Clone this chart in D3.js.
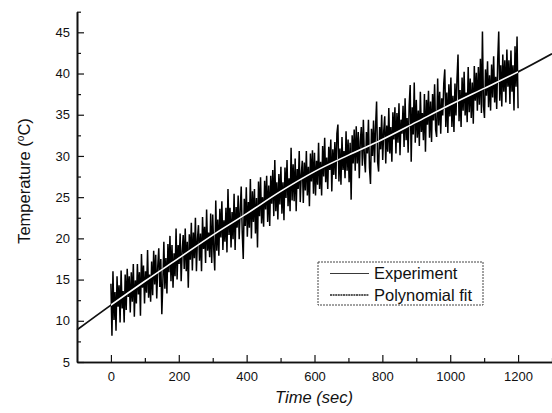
<!DOCTYPE html>
<html>
<head>
<meta charset="utf-8">
<script src="https://cdn.jsdelivr.net/npm/d3@7"></script>
<style>
  body { margin: 0; background: #fff; }
  svg text { font-family: "Liberation Sans", Arial, sans-serif; fill: #111; }
</style>
</head>
<body>
<svg id="chart"></svg>
<script>
// measured temperature, one reading every 3 s from 0 to 1200 s
let sampleStep = 3;
let expTemp = [
  14.5, 8.2, 16.0, 10.1, 13.5, 8.8, 15.4, 11.7, 14.3, 9.8, 16.1, 11.5, 13.6, 9.8, 15.6, 11.3, 16.3, 12.9, 15.4, 11.0,
  15.9, 12.3, 16.9, 10.5, 14.9, 12.1, 16.9, 13.2, 15.9, 10.6, 18.1, 14.0, 16.7, 12.1, 16.0, 13.4, 18.6, 12.8, 15.6, 12.3,
  17.2, 13.1, 18.5, 14.4, 18.0, 12.7, 16.6, 18.8, 14.1, 17.5, 10.8, 14.6, 19.6, 13.9, 17.6, 13.3, 19.3, 15.9, 20.3, 14.8,
  19.2, 14.0, 18.2, 15.4, 21.2, 15.0, 19.2, 16.9, 20.6, 14.8, 18.4, 20.4, 16.3, 21.2, 16.0, 19.6, 14.0, 20.5, 17.4, 21.9,
  16.1, 20.7, 17.6, 22.5, 16.0, 19.9, 21.6, 17.3, 20.6, 16.0, 22.6, 18.7, 21.4, 17.0, 23.5, 18.5, 20.7, 17.7, 23.0, 17.0,
  22.9, 18.7, 16.1, 24.6, 18.5, 22.3, 17.9, 23.6, 20.1, 24.5, 18.6, 22.2, 19.6, 23.7, 18.3, 26.0, 20.4, 23.7, 18.9, 23.2,
  19.9, 25.4, 18.6, 23.8, 21.3, 25.2, 19.9, 23.4, 26.3, 20.7, 17.5, 24.8, 21.5, 26.2, 20.2, 24.4, 21.3, 27.2, 20.0, 25.7,
  22.0, 26.0, 20.6, 24.9, 18.9, 26.9, 22.7, 27.4, 21.8, 25.0, 21.4, 27.0, 23.5, 27.6, 22.0, 26.4, 21.5, 27.6, 24.2, 28.3,
  22.7, 29.5, 23.3, 26.8, 22.3, 27.8, 24.1, 28.7, 23.0, 26.8, 22.2, 28.6, 24.9, 29.5, 23.9, 27.3, 23.3, 31.0, 24.6, 29.0,
  24.5, 29.7, 23.3, 28.4, 26.0, 30.6, 24.4, 27.8, 29.4, 24.3, 29.2, 25.8, 30.6, 25.2, 28.7, 23.9, 30.3, 26.9, 30.7, 25.4,
  30.4, 25.2, 29.4, 26.5, 31.6, 26.0, 29.3, 25.2, 31.2, 27.5, 32.2, 26.8, 29.8, 26.0, 31.1, 28.3, 32.0, 25.7, 30.8, 27.7,
  31.7, 27.2, 32.7, 33.8, 26.9, 30.9, 26.5, 32.3, 28.3, 30.6, 27.3, 33.0, 28.2, 32.0, 26.8, 31.6, 24.7, 32.5, 29.1, 33.2,
  28.2, 33.6, 29.1, 32.9, 27.3, 31.8, 33.5, 28.8, 34.4, 29.8, 28.0, 32.9, 30.3, 34.4, 28.6, 26.6, 33.3, 30.0, 34.3, 29.2,
  33.6, 36.6, 29.3, 28.1, 33.5, 30.8, 35.0, 29.5, 33.0, 34.8, 29.1, 33.7, 30.5, 35.8, 30.3, 33.5, 29.3, 35.3, 32.0, 35.9,
  30.3, 35.2, 31.6, 36.4, 30.1, 34.4, 32.7, 36.1, 31.1, 37.0, 31.9, 34.6, 30.4, 36.1, 38.6, 29.3, 35.9, 32.6, 38.9, 31.6,
  36.8, 32.2, 35.5, 31.2, 37.8, 32.9, 35.2, 31.9, 37.5, 30.5, 36.8, 33.8, 37.9, 32.2, 36.6, 31.7, 37.5, 34.3, 38.7, 33.2,
  32.3, 39.4, 33.7, 37.8, 32.7, 37.0, 34.9, 38.8, 40.5, 33.5, 37.7, 32.8, 38.7, 34.8, 39.5, 33.5, 37.3, 32.9, 38.8, 34.9,
  39.4, 42.3, 34.2, 38.0, 33.5, 39.5, 35.5, 40.2, 34.9, 37.7, 34.1, 40.8, 35.3, 39.4, 34.6, 38.9, 33.9, 40.9, 36.7, 40.1,
  35.5, 40.8, 36.2, 41.8, 35.2, 45.1, 36.1, 34.6, 40.5, 37.3, 41.5, 35.9, 39.8, 35.5, 41.1, 37.1, 42.1, 36.5, 39.6, 35.7,
  41.6, 45.1, 36.7, 41.0, 36.0, 42.3, 37.8, 41.6, 36.5, 42.9, 38.4, 41.6, 36.3, 42.8, 37.8, 41.0, 35.5, 43.3, 38.4, 44.5,
  35.8
];

// polynomial fit
let fitTime = [-100, 0, 100, 200, 300, 400, 500, 600, 700, 800, 900, 1000, 1100, 1200, 1300];
let fitTemp = [8.9, 11.9, 14.8, 17.6, 20.4, 23.0, 25.7, 28.1, 30.1, 32.0, 34.1, 36.2, 38.2, 40.2, 42.4];

let xTicks = [0, 200, 400, 600, 800, 1000, 1200];
let xMinorTicks = [100, 300, 500, 700, 900, 1100, 1300];
let yTicks = [5, 10, 15, 20, 25, 30, 35, 40, 45];
let yMinorTicks = [7.5, 12.5, 17.5, 22.5, 27.5, 32.5, 37.5, 42.5, 47.5];

let legends = ['Experiment', 'Polynomial fit'];

let width = 552;
let height = 413;

let svg = d3.select('#chart')
            .attr('width', width)
            .attr('height', height);

let xScale = d3.scaleLinear()
                .domain([-100, 1300])
                .range([77, 552]);

let yScale = d3.scaleLinear()
                .domain([5, 47.5])
                .range([362, 11.7]);

let expData = expTemp.map((t, i) => ({time: i * sampleStep, temp: t}));
let fitData = fitTime.map((t, i) => ({time: t, temp: fitTemp[i]}));

// experiment trace
let expLine = d3.line()
                .x(d => xScale(d.time))
                .y(d => yScale(d.temp));

svg.append('path')
    .datum(expData)
    .attr('d', expLine)
    .attr('fill', 'none')
    .attr('stroke', '#000')
    .attr('stroke-width', 1.5)
    .attr('stroke-linejoin', 'bevel');

// fit curve: dark outside the data, white where it crosses the band
let fitLine = d3.line()
                .curve(d3.curveMonotoneX)
                .x(d => xScale(d.time))
                .y(d => yScale(d.temp));

svg.append('clipPath')
    .attr('id', 'data-range')
    .append('rect')
    .attr('x', xScale(0))
    .attr('y', 0)
    .attr('width', xScale(1200) - xScale(0))
    .attr('height', height);

svg.append('path')
    .datum(fitData)
    .attr('d', fitLine)
    .attr('fill', 'none')
    .attr('stroke', '#111')
    .attr('stroke-width', 1.8);

svg.append('path')
    .datum(fitData)
    .attr('d', fitLine)
    .attr('clip-path', 'url(#data-range)')
    .attr('fill', 'none')
    .attr('stroke', '#fff')
    .attr('stroke-width', 1.6);

// axes
let xAxis = d3.axisBottom(xScale)
              .tickValues(xTicks)
              .tickSizeInner(-7)
              .tickSizeOuter(0)
              .tickPadding(10)
              .tickFormat(d3.format('d'));

let xMinor = d3.axisBottom(xScale)
               .tickValues(xMinorTicks)
               .tickSizeInner(-4)
               .tickSizeOuter(0)
               .tickFormat('');

let yAxis = d3.axisLeft(yScale)
              .tickValues(yTicks)
              .tickSizeInner(-7)
              .tickSizeOuter(0)
              .tickPadding(7)
              .tickFormat(d3.format('d'));

let yMinor = d3.axisLeft(yScale)
               .tickValues(yMinorTicks)
               .tickSizeInner(-4)
               .tickSizeOuter(0)
               .tickFormat('');

svg.append('g')
    .attr('transform', `translate(0,${yScale(5)})`)
    .call(xAxis);
svg.append('g')
    .attr('transform', `translate(0,${yScale(5)})`)
    .call(xMinor);

svg.append('g')
    .attr('transform', `translate(${xScale(-100)},0)`)
    .call(yAxis);
svg.append('g')
    .attr('transform', `translate(${xScale(-100)},0)`)
    .call(yMinor);

svg.selectAll('.domain')
    .attr('stroke', '#111')
    .attr('stroke-width', 1.6);
svg.selectAll('.tick line')
    .attr('stroke', '#111')
    .attr('stroke-width', 1.2);
svg.selectAll('.tick text')
    .style('font-family', '"Liberation Sans", Arial, sans-serif')
    .style('font-size', '13px')
    .attr('fill', '#111');

// axis titles
svg.append('text')
    .attr('x', 314)
    .attr('y', 403)
    .style('font-size', '16.5px')
    .style('font-style', 'italic')
    .style('text-anchor', 'middle')
    .text('Time (sec)');

let yTitle = svg.append('text')
                .attr('transform', 'translate(30,181) rotate(-90)')
                .style('font-size', '16.5px')
                .style('text-anchor', 'middle');
yTitle.append('tspan').text('Temperature (');
yTitle.append('tspan')
      .attr('dy', -6)
      .style('font-size', '10px')
      .text('o');
yTitle.append('tspan')
      .attr('dy', 6)
      .text('C)');

// legend
let legend = svg.append('g')
                .attr('transform', 'translate(318,262)');

legend.append('rect')
      .attr('width', 165)
      .attr('height', 43)
      .attr('fill', '#fff')
      .attr('stroke', '#444')
      .attr('stroke-width', 1)
      .attr('stroke-dasharray', '2,1');

let rows = legend.selectAll('.legend')
                 .data(legends)
                 .enter()
                 .append('g')
                 .attr('class', 'legend')
                 .attr('transform', (d, i) => `translate(0,${11.5 + i * 21.5})`);

rows.append('line')
    .attr('x1', 12)
    .attr('x2', 51)
    .attr('stroke', '#222')
    .attr('stroke-width', (d, i) => i ? 1.4 : 0.9)
    .attr('stroke-dasharray', (d, i) => i ? '2,0.6' : null);

rows.append('text')
    .attr('x', 56)
    .attr('dy', '.36em')
    .style('font-size', '16.5px')
    .text(d => d);
</script>
</body>
</html>
